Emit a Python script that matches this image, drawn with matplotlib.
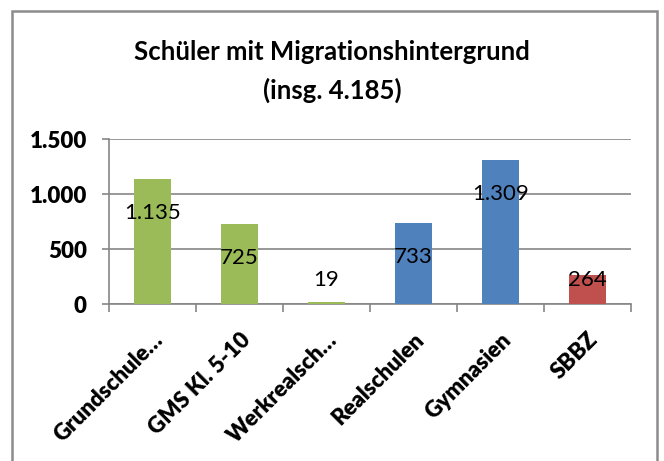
import matplotlib.pyplot as plt
from matplotlib.patches import Rectangle

# Data
categories = ['Grundschule…', 'GMS Kl. 5-10', 'Werkrealsch…', 'Realschulen', 'Gymnasien', 'SBBZ']
values = [1135, 725, 19, 733, 1309, 264]
colors = ['#9BBB59', '#9BBB59', '#9BBB59', '#4F81BD', '#4F81BD', '#C0504D']
value_labels = ['1.135', '725', '19', '733', '1.309', '264']
yticks = [0, 500, 1000, 1500]
ytick_labels = ['0', '500', '1.000', '1.500']

plt.rcParams['font.family'] = ['Lato', 'DejaVu Sans']

W, H = 664, 461
fig = plt.figure(figsize=(W / 100, H / 100), dpi=100)
ax = fig.add_axes([109 / W, 1 - 304 / H, (631 - 109) / W, (304 - 139) / H])

# outer chart border
fig.patches.append(Rectangle((12 / W, -0.1), (657 - 12) / W, 1.1 - 11 / H,
                             transform=fig.transFigure, fill=False,
                             edgecolor='#8c8c8c', linewidth=1.8))

x = range(len(categories))
ax.bar(x, values, width=0.42, color=colors, zorder=3)

# data labels (inside the bar, a fixed offset below its top)
for i, v in enumerate(values):
    ax.text(i, max(v - 310, 218), value_labels[i], ha='center', va='center',
            fontsize=16, color='black', zorder=4)

ax.set_xlim(-0.5, len(categories) - 0.5)
ax.set_ylim(0, 1500)
ax.set_yticks(yticks)
ax.set_yticklabels(ytick_labels, fontsize=16, fontweight='heavy')
ax.grid(axis='y', color='#868686', linewidth=1.2, zorder=0)
ax.tick_params(axis='y', length=5, width=1.2, color='#868686', pad=11)

# category boundary ticks
ax.set_xticks([i - 0.5 for i in range(len(categories) + 1)])
ax.set_xticklabels([])
ax.tick_params(axis='x', which='major', length=6, color='#868686', width=1.2)
ax.set_xticks(list(x), minor=True)
ax.set_xticklabels(categories, minor=True, rotation=45, ha='right',
                   rotation_mode='anchor', fontsize=16, fontweight='heavy')
ax.tick_params(axis='x', which='minor', length=0, pad=18)

for s in ['top', 'right']:
    ax.spines[s].set_visible(False)
for s in ['left', 'bottom']:
    ax.spines[s].set_color('#868686')
    ax.spines[s].set_linewidth(1.2)

fig.text(0.5, 1 - 52 / H, 'Schüler mit Migrationshintergrund', ha='center', va='center',
         fontsize=18.5, fontweight='bold')
fig.text(0.5, 1 - 90 / H, '(insg. 4.185)', ha='center', va='center',
         fontsize=18.5, fontweight='bold')

fig.savefig('out.png', dpi=100)
